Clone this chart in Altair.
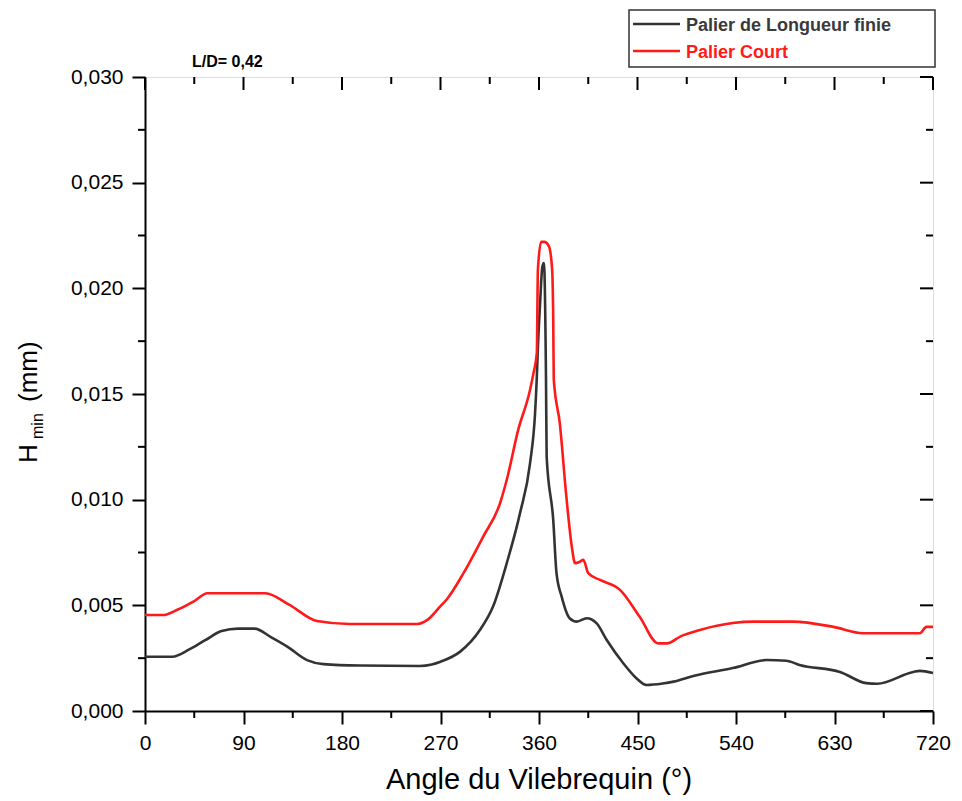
import altair as alt
import pandas as pd

# ---- data ----
black_angle = [0, 25, 40, 55, 70, 85, 100, 115, 130, 148, 163, 196, 251, 262, 270, 288, 306, 318, 330.5, 342.6,
               351.8, 356.4, 357.9, 359, 361, 363, 364.5, 366.4, 367, 373, 376, 380.7, 388, 394.5, 403.6, 412.7,
               421.9, 437, 449, 458, 473, 483, 501, 537, 568, 586, 598, 635, 659, 669, 702, 708, 720]
black_hmin = [0.00257, 0.00257, 0.00290, 0.00335, 0.00378, 0.00390, 0.00390, 0.00350, 0.00305, 0.00241,
              0.00222, 0.00215, 0.00213, 0.00220, 0.00233, 0.00281, 0.00383, 0.00494, 0.00699, 0.00935,
              0.01172, 0.01409, 0.01566, 0.0172, 0.0193, 0.0210, 0.0212, 0.01566, 0.01203, 0.00904,
              0.00652, 0.00541, 0.00439, 0.00423, 0.00439, 0.00415, 0.00336, 0.00226, 0.00155, 0.00123,
              0.00130, 0.00139, 0.00166, 0.00203, 0.00241, 0.00238, 0.00218, 0.00185, 0.00132, 0.00129,
              0.00185, 0.0019, 0.0018]

red_angle = [0, 16, 30, 45, 57, 110, 132, 157, 187, 249, 258, 269.6, 276, 291, 309, 324.4, 330.5, 341, 351.8,
             355, 358, 359, 362, 365, 369, 372, 373, 373.5, 379, 385, 390, 393, 397, 400.5, 405, 415.8, 434,
             452, 469, 477, 489, 507, 537, 556, 592, 629, 656, 708, 714, 720]
red_hmin = [0.00454, 0.00454, 0.00480, 0.00520, 0.00557, 0.00557, 0.00502, 0.00426, 0.00412, 0.00412,
            0.00431, 0.00494, 0.00530, 0.00652, 0.00825, 0.00983, 0.01093, 0.0133, 0.01519,
            0.01600, 0.01694, 0.0209, 0.0222, 0.0222, 0.0220, 0.0209, 0.0185, 0.0157, 0.01362, 0.01014,
            0.00777, 0.00699, 0.00705, 0.00715, 0.00652, 0.0062, 0.00573, 0.00446, 0.0032, 0.0032,
            0.00352, 0.00383, 0.00416, 0.00423, 0.00423, 0.00398, 0.00368, 0.00368, 0.00398, 0.00398]

series_names = ["Palier de Longueur finie", "Palier Court"]
series_colors = ["#333333", "#ff1a1a"]

x_major = [0, 90, 180, 270, 360, 450, 540, 630, 720]
x_minor = [45, 135, 225, 315, 405, 495, 585, 675]
y_major = [0.0, 0.005, 0.010, 0.015, 0.020, 0.025, 0.030]
y_minor = [0.0025, 0.0075, 0.0125, 0.0175, 0.0225, 0.0275]

W, H = 788, 634
FONT = "Liberation Sans"

xscale = alt.Scale(domain=[0, 720], nice=False, zero=False)
yscale = alt.Scale(domain=[0, 0.030], nice=False)

black_df = pd.DataFrame({"angle": black_angle, "hmin": black_hmin, "serie": series_names[0]})
red_df = pd.DataFrame({"angle": red_angle, "hmin": red_hmin, "serie": series_names[1]})

xaxis = alt.Axis(values=x_major, tickSize=13, tickWidth=2, tickColor="black", domainWidth=2,
                 domainColor="black", labelFontSize=21, labelFont=FONT, labelColor="black",
                 labelPadding=8, grid=False, title=None, labelFlush=False)
yaxis = alt.Axis(values=y_major, tickSize=13, tickWidth=2, tickColor="black", domainWidth=2,
                 domainColor="black", labelFontSize=21, labelFont=FONT, labelColor="black",
                 labelPadding=9, grid=False, title=None,
                 labelExpr="replace(format(datum.value, '.3f'), '.', ',')")

black_line = alt.Chart(black_df).mark_line(strokeWidth=2.6, color=series_colors[0],
                                           interpolate="monotone").encode(
    x=alt.X("angle:Q", scale=xscale, axis=xaxis),
    y=alt.Y("hmin:Q", scale=yscale, axis=yaxis),
)
red_line = alt.Chart(red_df).mark_line(strokeWidth=2.6, color=series_colors[1],
                                       interpolate="monotone").encode(
    x=alt.X("angle:Q", scale=xscale),
    y=alt.Y("hmin:Q", scale=yscale),
)

# minor / mirrored ticks
xmaj_df = pd.DataFrame({"v": x_major})
xmin_df = pd.DataFrame({"v": x_minor})
ymaj_df = pd.DataFrame({"v": y_major})
ymin_df = pd.DataFrame({"v": y_minor})

def xticks(df, y0, y1):
    return alt.Chart(df).mark_rule(color="black", strokeWidth=2).encode(
        x=alt.X("v:Q", scale=xscale), y=alt.value(y0), y2=alt.value(y1))

def yticks(df, x0, x1):
    return alt.Chart(df).mark_rule(color="black", strokeWidth=2).encode(
        y=alt.Y("v:Q", scale=yscale), x=alt.value(x0), x2=alt.value(x1))

ticks = [
    xticks(xmin_df, H, H + 7),      # bottom minor
    xticks(xmaj_df, 0, 13),         # top major inward
    xticks(xmin_df, 0, 7),          # top minor inward
    yticks(ymin_df, -7, 0),         # left minor
    yticks(ymaj_df, W - 13, W),     # right major inward
    yticks(ymin_df, W - 7, W),      # right minor inward
]

one = pd.DataFrame({"a": [0]})

def txt(text, x, y, size, color="black", weight="normal", angle=0, align="left", baseline="alphabetic"):
    kw = dict(text=text, fontSize=size, font=FONT, color=color, fontWeight=weight,
              align=align, baseline=baseline)
    if angle:
        kw["angle"] = angle
    return alt.Chart(one).mark_text(**kw).encode(x=alt.value(x), y=alt.value(y))

titles = [
    txt("Angle du Vilebrequin (°)", W / 2, 712, 29, align="center"),
    txt("H", -108, 386, 26, angle=270),
    txt("min", -102, 362, 16, angle=270),
    txt("(mm)", -108, 325, 26, angle=270),
    txt("L/D= 0,42", 47, -10, 16, weight="bold"),
]

# legend (custom, boxed)
legend_box = alt.Chart(one).mark_rect(fill="white", stroke="#333333", strokeWidth=1.5).encode(
    x=alt.value(484), x2=alt.value(790), y=alt.value(-67), y2=alt.value(-10))
leg = [
    legend_box,
    alt.Chart(one).mark_rule(color=series_colors[0], strokeWidth=2.5).encode(
        x=alt.value(488), x2=alt.value(535), y=alt.value(-53)),
    alt.Chart(one).mark_rule(color=series_colors[1], strokeWidth=2.5).encode(
        x=alt.value(488), x2=alt.value(535), y=alt.value(-26)),
    txt(series_names[0], 541, -46, 18, color="#3a3a3a", weight="bold"),
    txt(series_names[1], 541, -19, 18, color="#ff1a1a", weight="bold"),
]

chart = alt.layer(black_line, red_line, *ticks, *titles, *leg).properties(
    width=W, height=H,
    autosize=alt.AutoSizeParams(type="none"),
    padding={"left": 145, "top": 77, "right": 29, "bottom": 90},
).configure_view(stroke="black", strokeWidth=2).configure(background="white")

chart.save("out.html", embed_options={"renderer": "svg", "actions": False})
